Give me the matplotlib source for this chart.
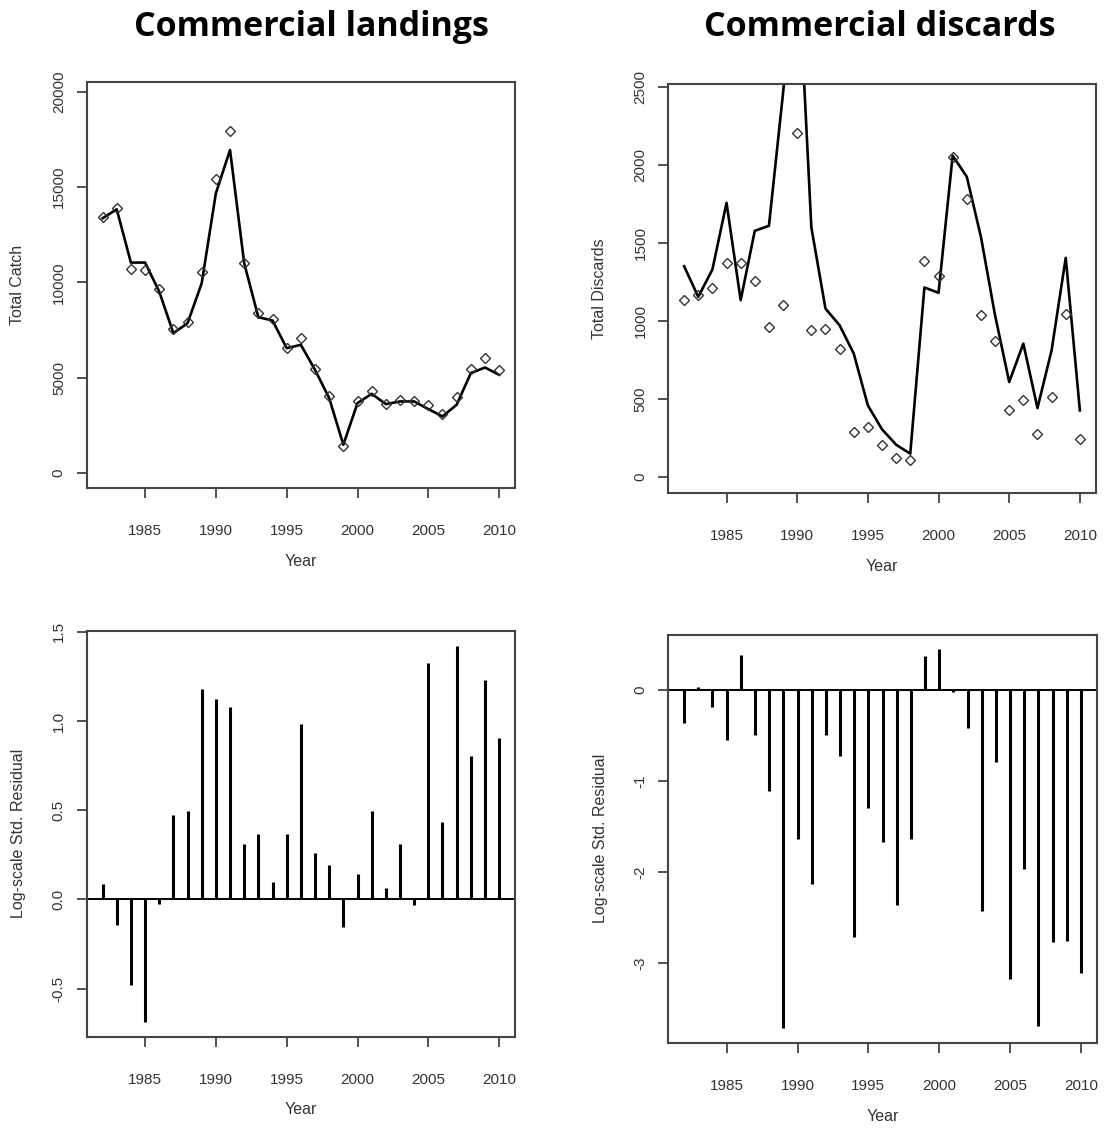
import numpy as np
import matplotlib
matplotlib.use('Agg')
import matplotlib.pyplot as plt

plt.rcParams['font.family'] = ['Liberation Sans', 'DejaVu Sans']

# data
years = list(range(1982, 2011))

land_obs = [13450, 13886, 10707, 10655, 9659, 7546, 7947, 10533, 15406, 17939,
            11004, 8384, 8087, 6550, 7092, 5467, 4017, 1432, 3790, 4314,
            3616, 3843, 3790, 3581, 3092, 3965, 5467, 6009, 5380]
land_pred = [13362, 13834, 11039, 11039, 9520, 7336, 7860, 9956, 14672, 16943,
             11004, 8175, 8000, 6550, 6725, 5415, 3930, 1485, 3668, 4157,
             3616, 3755, 3755, 3354, 2969, 3581, 5240, 5537, 5153]

disc_obs = [1137, 1165, 1212, 1368, 1368, 1254, 962, 1105, 2205, 944,
            951, 818, 288, 321, 203, 122, 107, 1385, 1286, 2051,
            1778, 1036, 870, 432, 496, 278, 513, 1047, 246]
disc_pred = [1350, 1154, 1329, 1756, 1133, 1577, 1609, 2460, 3420, 1600,
             1079, 972, 791, 459, 306, 207, 150, 1214, 1180, 2058,
             1923, 1538, 1036, 609, 855, 442, 812, 1404, 427]

land_resid = [0.084, -0.144, -0.480, -0.689, -0.026, 0.473, 0.497, 1.177, 1.121, 1.076,
              0.308, 0.366, 0.099, 0.366, 0.983, 0.258, 0.192, -0.153, 0.140, 0.497,
              0.062, 0.308, -0.032, 1.323, 0.432, 1.422, 0.803, 1.229, 0.902]
disc_resid = [-0.366, 0.029, -0.183, -0.549, 0.384, -0.494, -1.109, -3.714, -1.636, -2.133,
              -0.494, -0.721, -2.715, -1.292, -1.665, -2.360, -1.636, 0.373, 0.446, -0.026,
              -0.421, -2.422, -0.794, -3.176, -1.965, -3.688, -2.762, -2.752, -3.103]

W, H = 1104, 1129
fig = plt.figure(figsize=(W / 100, H / 100), dpi=100)

txt = '#333333'
frame = '#444444'


def make_axes(x0, y0, x1, y1):
    # pixel box -> figure fraction
    return fig.add_axes([x0 / W, 1 - y1 / H, (x1 - x0) / W, (y1 - y0) / H])


def style(ax, yticks, ylabels, ylim, ylab, xlab_y, ylab_x):
    ax.set_xlim(1980.88, 2011.12)
    ax.set_ylim(*ylim)
    ax.set_xticks([1985, 1990, 1995, 2000, 2005, 2010])
    ax.set_yticks(yticks)
    ax.set_yticklabels(ylabels)
    for s in ax.spines.values():
        s.set_color(frame)
        s.set_linewidth(1.5)
    ax.tick_params(axis='both', direction='out', length=7, width=1.3, color=frame,
                   labelsize=11, labelcolor=txt)
    ax.tick_params(axis='x', pad=19)
    ax.tick_params(axis='y', pad=8)
    plt.setp(ax.get_yticklabels(), rotation=90, va='center')
    bb = ax.get_position()
    fig.text((bb.x0 + bb.x1) / 2, 1 - xlab_y / H, 'Year', ha='center', va='center',
             fontsize=11.5, color=txt)
    fig.text(ylab_x / W, (bb.y0 + bb.y1) / 2, ylab, ha='center', va='center',
             rotation=90, fontsize=11.5, color=txt)


# top left: landings
ax1 = make_axes(86.7, 81.7, 515, 488.3)
ax1.plot(years, land_pred, color='black', lw=1.9)
ax1.plot(years, land_obs, 'D', mfc='none', mec='#333333', ms=5.5, mew=1.0)
style(ax1, [0, 5000, 10000, 15000, 20000], ['0', '5000', '10000', '15000', '20000'],
      (-800, 20525), 'Total Catch', 561.7, 18)

# top right: discards
ax2 = make_axes(668.3, 84, 1095.7, 492.7)
ax2.plot(years, disc_pred, color='black', lw=1.9)
ax2.plot(years, disc_obs, 'D', mfc='none', mec='#333333', ms=5.5, mew=1.0)
style(ax2, [0, 500, 1000, 1500, 2000, 2500], ['0', '500', '1000', '1500', '2000', '2500'],
      (-100, 2517), 'Total Discards', 566.7, 600)

# bottom left: landings residuals
ax3 = make_axes(86.7, 630.7, 515, 1036.7)
ax3.axhline(0, color='black', lw=1.4)
ax3.vlines(years, 0, land_resid, color='black', lw=2.2)
style(ax3, [-0.5, 0.0, 0.5, 1.0, 1.5], ['-0.5', '0.0', '0.5', '1.0', '1.5'],
      (-0.770, 1.506), 'Log-scale Std. Residual', 1110, 19)

# bottom right: discards residuals
ax4 = make_axes(668.3, 634.7, 1096.7, 1042.7)
ax4.axhline(0, color='black', lw=1.4)
ax4.vlines(years, 0, disc_resid, color='black', lw=2.2)
style(ax4, [-3, -2, -1, 0], ['-3', '-2', '-1', '0'],
      (-3.872, 0.607), 'Log-scale Std. Residual', 1116.7, 600)

fig.text(311.5 / W, 1 - 27 / H, 'Commercial landings', ha='center', va='center',
         fontsize=24.5, fontweight='bold', family=['Open Sans', 'DejaVu Sans'])
fig.text(880 / W, 1 - 27 / H, 'Commercial discards', ha='center', va='center',
         fontsize=24.5, fontweight='bold', family=['Open Sans', 'DejaVu Sans'])

fig.savefig('out.png', dpi=100)
